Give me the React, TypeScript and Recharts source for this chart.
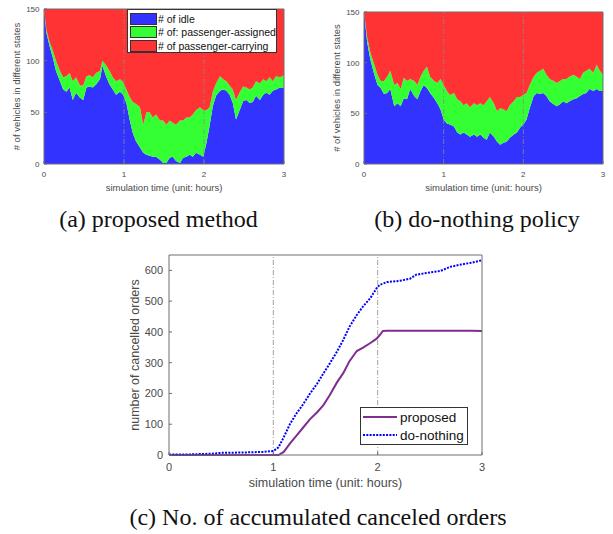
import React from "react";
import {
  AreaChart,
  Area,
  LineChart,
  Line,
  XAxis,
  YAxis,
  ReferenceLine,
  Legend,
} from "recharts";

// (a) proposed method: vehicles per state
const timeA = [
  0, 0.03, 0.07, 0.11, 0.15, 0.2, 0.24, 0.28, 0.32, 0.36, 0.4, 0.45, 0.49, 0.53, 0.57, 0.61, 0.65,
  0.7, 0.73, 0.78, 0.82, 0.86, 0.9, 0.95, 0.99, 1.03, 1.07, 1.11, 1.15, 1.2, 1.24, 1.28, 1.32, 1.36,
  1.4, 1.45, 1.49, 1.53, 1.57, 1.61, 1.65, 1.7, 1.74, 1.78, 1.82, 1.86, 1.9, 1.95, 1.99, 2.03, 2.07,
  2.11, 2.15, 2.2, 2.24, 2.28, 2.32, 2.36, 2.4, 2.45, 2.49, 2.53, 2.57, 2.61, 2.65, 2.7, 2.74, 2.78,
  2.82, 2.86, 2.9, 2.95, 3.0,
];
const idleA = [
  150, 127, 114, 103, 90, 80, 72, 70, 74, 62, 69, 64, 62, 74, 75, 74, 77, 82, 95, 84, 77, 72, 67, 70,
  67, 59, 43, 30, 22, 16, 11, 9, 8, 7, 7, 4, 1, 1, 6, 7, 3, 1, 6, 7, 9, 7, 11, 9, 7, 20, 37, 56, 66,
  71, 72, 71, 67, 59, 43, 53, 61, 62, 59, 60, 66, 62, 67, 69, 67, 71, 72, 74, 74,
];
const assignedA = [
  0, 3, 4, 7, 10, 10, 12, 15, 14, 18, 15, 12, 14, 11, 11, 10, 11, 8, 5, 11, 13, 12, 13, 12, 12, 13,
  22, 30, 36, 39, 27, 41, 42, 38, 41, 38, 41, 37, 36, 33, 35, 41, 36, 38, 36, 41, 41, 46, 45, 32, 18,
  14, 12, 14, 10, 9, 9, 13, 19, 17, 14, 12, 13, 14, 14, 16, 15, 11, 17, 9, 13, 10, 12,
];
const carryingA = [
  0, 20, 32, 40, 50, 60, 66, 65, 62, 70, 66, 74, 74, 65, 64, 66, 62, 60, 50, 55, 60, 66, 70, 68, 71,
  78, 85, 90, 92, 95, 112, 100, 100, 105, 102, 108, 108, 112, 108, 110, 112, 108, 108, 105, 105, 102,
  98, 95, 98, 98, 95, 80, 72, 65, 68, 70, 74, 78, 88, 80, 75, 76, 78, 76, 70, 72, 68, 70, 66, 70, 65,
  66, 64,
];

// (b) do-nothing policy
const timeB = [
  0, 0.04, 0.08, 0.13, 0.17, 0.21, 0.25, 0.29, 0.33, 0.38, 0.42, 0.46, 0.5, 0.54, 0.58, 0.63, 0.67,
  0.71, 0.75, 0.79, 0.83, 0.88, 0.92, 0.96, 1.0, 1.04, 1.08, 1.13, 1.17, 1.21, 1.25, 1.29, 1.33, 1.38,
  1.42, 1.46, 1.5, 1.54, 1.58, 1.63, 1.67, 1.71, 1.75, 1.79, 1.83, 1.88, 1.92, 1.96, 2.0, 2.04, 2.08,
  2.13, 2.17, 2.21, 2.25, 2.29, 2.33, 2.38, 2.42, 2.46, 2.5, 2.54, 2.58, 2.63, 2.67, 2.71, 2.75, 2.79,
  2.83, 2.88, 2.92, 2.96, 3.0,
];
const idleB = [
  150, 120, 103, 88, 78, 75, 69, 70, 74, 57, 60, 57, 65, 64, 74, 67, 64, 72, 78, 75, 70, 65, 60, 54,
  44, 40, 39, 37, 31, 29, 31, 29, 27, 29, 27, 29, 26, 24, 31, 27, 22, 19, 21, 22, 26, 29, 31, 36, 39,
  44, 55, 67, 70, 69, 70, 67, 62, 59, 57, 59, 62, 60, 62, 64, 65, 67, 69, 70, 74, 72, 74, 72, 72,
];
const assignedB = [
  0, 5, 7, 10, 10, 7, 13, 16, 18, 21, 20, 17, 20, 18, 10, 15, 14, 14, 14, 21, 16, 17, 20, 30, 34, 32,
  29, 33, 33, 33, 27, 31, 29, 31, 31, 31, 32, 38, 35, 33, 30, 36, 33, 30, 32, 33, 35, 30, 29, 26, 23,
  19, 20, 23, 24, 21, 22, 23, 23, 23, 22, 24, 24, 24, 21, 17, 21, 22, 20, 18, 24, 20, 16,
];
const carryingB = [
  0, 25, 40, 52, 62, 68, 68, 64, 58, 72, 70, 76, 65, 68, 66, 68, 72, 64, 58, 54, 64, 68, 70, 66, 72,
  78, 82, 80, 86, 88, 92, 90, 94, 90, 92, 90, 92, 88, 84, 90, 98, 95, 96, 98, 92, 88, 84, 84, 82, 80,
  72, 64, 60, 58, 56, 62, 66, 68, 70, 68, 66, 66, 64, 62, 64, 66, 60, 58, 56, 60, 52, 58, 62,
];

// (c) accumulated cancelled orders
const timeC = [
  0, 0.2, 0.4, 0.5, 0.7, 0.9, 1.0, 1.05, 1.1, 1.16, 1.22, 1.29, 1.35, 1.42, 1.48, 1.54, 1.61, 1.67,
  1.73, 1.8, 1.86, 1.93, 1.99, 2.02, 2.05, 2.09, 2.21, 2.31, 2.37, 2.5, 2.6, 2.7, 2.8, 2.9, 3.0,
];
const proposedC = [
  0, 0, 0, 0, 0, 0, 0, 0, 10, 38, 62, 91, 116, 139, 162, 194, 236, 266, 305, 338, 349, 364, 378, 390,
  403, 404, 404, 404, 404, 404, 404, 404, 404, 404, 403,
];
const doNothingC = [
  2, 2, 4, 7, 8, 10, 13, 25, 58, 101, 134, 167, 199, 232, 265, 297, 336, 374, 417, 455, 483, 510, 542,
  553, 557, 562, 566, 573, 586, 593, 598, 612, 619, 625, 633,
];

const hourTicks = [0, 1, 2, 3];
const vehicleTicks = [0, 50, 100, 150];
const orderTicks = [0, 100, 200, 300, 400, 500, 600];

const BLUE = "#3333ff";
const GREEN = "#33ff33";
const RED = "#ff3333";
const PURPLE = "#7e2f8e";
const AXIS = "#6e6e6e";
const TEXT = "#4a4a4a";
const SANS = "'Liberation Sans', Arial, sans-serif";
const SERIF = "'Liberation Serif', 'Times New Roman', serif";

const stateNames = ["# of idle", "# of: passenger-assigned", "# of passenger-carrying"];
const stateColors: Record<string, string> = {
  "# of idle": BLUE,
  "# of: passenger-assigned": GREEN,
  "# of passenger-carrying": RED,
};

const dataA = timeA.map((t, i) => ({ t, idle: idleA[i], assigned: assignedA[i], carrying: carryingA[i] }));
const dataB = timeB.map((t, i) => ({ t, idle: idleB[i], assigned: assignedB[i], carrying: carryingB[i] }));
const dataC = timeC.map((t, i) => ({ t, proposed: proposedC[i], doNothing: doNothingC[i] }));

function StateLegend() {
  return (
    <div
      style={{
        width: 150,
        height: 44,
        border: "1px solid #333",
        background: "#fff",
        boxSizing: "border-box",
        padding: "2px 0 0 2px",
        fontFamily: SANS,
        fontSize: 10.5,
        color: "#111",
      }}
    >
      {stateNames.map((name) => (
        <div key={name} style={{ display: "flex", alignItems: "center", height: 13.5 }}>
          <span
            style={{
              display: "inline-block",
              width: 27,
              height: 12,
              background: stateColors[name],
              border: "1px solid #333",
              boxSizing: "border-box",
              marginRight: 1,
            }}
          />
          <span style={{ whiteSpace: "nowrap" }}>{name}</span>
        </div>
      ))}
    </div>
  );
}

function OrdersLegend() {
  const rows = [
    { name: "proposed", color: PURPLE, dash: undefined },
    { name: "do-nothing", color: "#0000ff", dash: "2 1.3" },
  ];
  return (
    <div
      style={{
        width: 108,
        height: 38,
        border: "1px solid #333",
        background: "#fff",
        boxSizing: "border-box",
        padding: "0 0 0 2px",
        fontFamily: SANS,
        fontSize: 13.5,
        color: "#111",
      }}
    >
      {rows.map((r) => (
        <div key={r.name} style={{ display: "flex", alignItems: "center", height: 18 }}>
          <svg width={35} height={6} style={{ marginRight: 2 }}>
            <line x1={0} y1={3} x2={34} y2={3} stroke={r.color} strokeWidth={2} strokeDasharray={r.dash} />
          </svg>
          <span>{r.name}</span>
        </div>
      ))}
    </div>
  );
}

type StateChartProps = {
  data: { t: number; idle: number; assigned: number; carrying: number }[];
  top: number;
  right: number;
  legend?: boolean;
};

// top and right axes only draw the box frame with inward ticks
function StateChart({ data, top, right, legend }: StateChartProps) {
  return (
    <AreaChart width={300} height={200} data={data} margin={{ top: top - 1, right: right - 1, bottom: 6, left: 0 }}>
      <Area type="linear" dataKey="idle" name={stateNames[0]} stackId="s" stroke="none" fill={BLUE} fillOpacity={1} isAnimationActive={false} activeDot={false} />
      <Area type="linear" dataKey="assigned" name={stateNames[1]} stackId="s" stroke="none" fill={GREEN} fillOpacity={1} isAnimationActive={false} activeDot={false} />
      <Area type="linear" dataKey="carrying" name={stateNames[2]} stackId="s" stroke="none" fill={RED} fillOpacity={1} isAnimationActive={false} activeDot={false} />
      <ReferenceLine x={1} stroke="#8a8a8a" strokeWidth={0.8} strokeDasharray="5 2 1 2" />
      <ReferenceLine x={2} stroke="#8a8a8a" strokeWidth={0.8} strokeDasharray="5 2 1 2" />
      <XAxis
        dataKey="t"
        type="number"
        domain={[0, 3]}
        ticks={hourTicks}
        interval={0}
        height={30}
        tickSize={-3}
        tickMargin={10}
        stroke={AXIS}
        tick={{ fontSize: 8, fill: TEXT, fontFamily: SANS }}
        label={{ value: "simulation time (unit: hours)", position: "center", dy: 9, fontSize: 9.5, fill: TEXT, fontFamily: SANS }}
      />
      <YAxis
        type="number"
        domain={[0, 150]}
        ticks={vehicleTicks}
        interval={0}
        width={44}
        tickSize={-3}
        tickMargin={7.5}
        stroke={AXIS}
        tick={{ fontSize: 8, fill: TEXT, fontFamily: SANS }}
        label={{ value: "# of vehicles in different states", angle: -90, position: "center", dx: -5, fontSize: 9.5, fill: TEXT, fontFamily: SANS }}
      />
      <XAxis xAxisId="top" orientation="top" dataKey="t" type="number" domain={[0, 3]} ticks={hourTicks} interval={0} height={1} tick={false} tickSize={-3} stroke={AXIS} />
      <YAxis yAxisId="right" orientation="right" type="number" domain={[0, 150]} ticks={vehicleTicks} interval={0} width={1} tick={false} tickSize={-3} stroke={AXIS} />
      {legend && (
        <Legend
          layout="horizontal"
          verticalAlign="middle"
          align="center"
          wrapperStyle={{ left: 127, top: 9, width: 150 }}
          content={() => <StateLegend />}
        />
      )}
    </AreaChart>
  );
}

function OrdersChart() {
  return (
    <LineChart width={400} height={260} data={dataC} margin={{ top: 14, right: 17, bottom: 5, left: 0 }}>
      <ReferenceLine x={1} stroke="#8a8a8a" strokeWidth={0.8} strokeDasharray="5 2 1 2" />
      <ReferenceLine x={2} stroke="#8a8a8a" strokeWidth={0.8} strokeDasharray="5 2 1 2" />
      <Line type="linear" dataKey="proposed" name="proposed" stroke={PURPLE} strokeWidth={2} dot={false} activeDot={false} isAnimationActive={false} />
      <Line type="linear" dataKey="doNothing" name="do-nothing" stroke="#0000ff" strokeWidth={2} strokeDasharray="2 1.3" dot={false} activeDot={false} isAnimationActive={false} />
      <XAxis
        dataKey="t"
        type="number"
        domain={[0, 3]}
        ticks={hourTicks}
        interval={0}
        height={40}
        tickSize={-3}
        tickMargin={11.5}
        stroke={AXIS}
        tick={{ fontSize: 11, fill: TEXT, fontFamily: SANS }}
        label={{ value: "simulation time (unit: hours)", position: "center", dy: 8, fontSize: 12.5, fill: TEXT, fontFamily: SANS }}
      />
      <YAxis
        type="number"
        domain={[0, 650]}
        ticks={orderTicks}
        interval={0}
        width={69}
        tickSize={-3}
        tickMargin={9}
        stroke={AXIS}
        tick={{ fontSize: 11, fill: TEXT, fontFamily: SANS }}
        label={{ value: "number of cancelled orders", angle: -90, position: "center", fontSize: 12.5, fill: TEXT, fontFamily: SANS }}
      />
      <XAxis xAxisId="top" orientation="top" dataKey="t" type="number" domain={[0, 3]} ticks={hourTicks} interval={0} height={1} tick={false} tickSize={-3} stroke={AXIS} />
      <YAxis yAxisId="right" orientation="right" type="number" domain={[0, 650]} ticks={orderTicks} interval={0} width={1} tick={false} tickSize={-3} stroke={AXIS} />
      <Legend
        layout="horizontal"
        verticalAlign="middle"
        align="center"
        wrapperStyle={{ left: 260, top: 167, width: 108 }}
        content={() => <OrdersLegend />}
      />
    </LineChart>
  );
}

function Caption({ text, center, top }: { text: string; center: number; top: number }) {
  return (
    <div
      style={{
        position: "absolute",
        left: center - 250,
        top,
        width: 500,
        textAlign: "center",
        fontFamily: SERIF,
        fontSize: 24,
        lineHeight: "24px",
        color: "#111",
        whiteSpace: "nowrap",
      }}
    >
      {text}
    </div>
  );
}

export default function App() {
  return (
    <div style={{ position: "absolute", left: 0, top: 0, width: 613, height: 534, background: "#fff", overflow: "hidden" }}>
      <div style={{ position: "absolute", left: 0, top: 0 }}>
        <StateChart data={dataA} top={9} right={16} legend />
      </div>
      <div style={{ position: "absolute", left: 320, top: 0 }}>
        <StateChart data={dataB} top={12} right={17} />
      </div>
      <div style={{ position: "absolute", left: 100, top: 240 }}>
        <OrdersChart />
      </div>
      <Caption text="(a) proposed method" center={158.5} top={207} />
      <Caption text="(b) do-nothing policy" center={477} top={207} />
      <Caption text="(c) No. of accumulated canceled orders" center={318} top={505} />
    </div>
  );
}
